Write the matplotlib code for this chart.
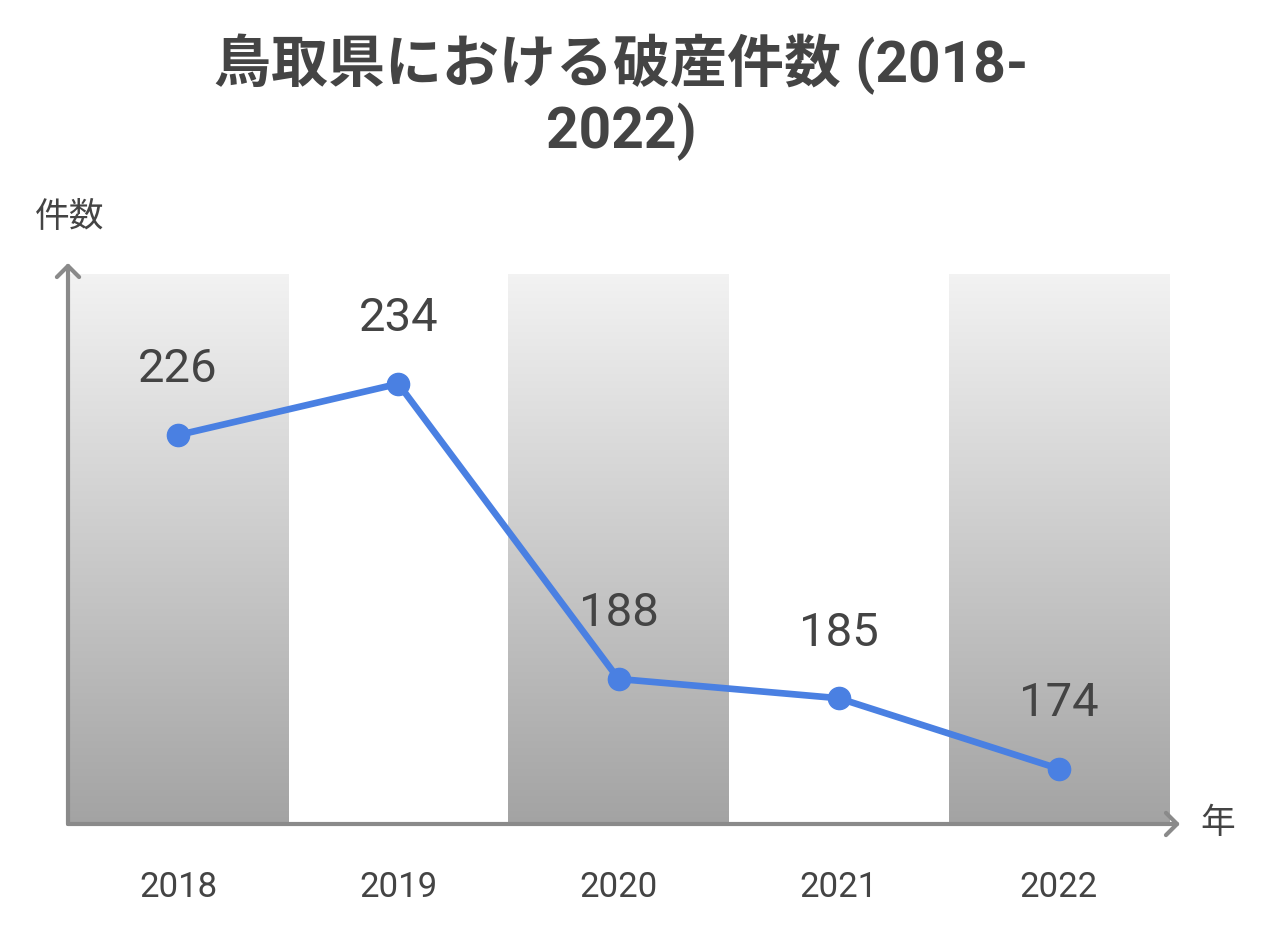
import numpy as np
import matplotlib.pyplot as plt

plt.rcParams['font.family'] = ['Roboto', 'Noto Sans CJK JP', 'DejaVu Sans']

years = ['2018', '2019', '2020', '2021', '2022']
counts = [226, 234, 188, 185, 174]

title = '鳥取県における破産件数 (2018-\n2022)'
ylabel = '件数'
xlabel = '年'

fig = plt.figure(figsize=(12.8, 9.45), dpi=100)
ax = fig.add_axes([68/1280, 1-825/945, 1101/1280, 550/945])

ymin, ymax = 165.4, 251.1
x = np.arange(len(years))
ax.set_xlim(-0.5, len(years) - 0.5)
ax.set_ylim(ymin, ymax)

# gradient bands on every other year
grad = np.linspace(0, 1, 256).reshape(-1, 1)
top = np.array([0.95, 0.95, 0.95])
bot = np.array([0.64, 0.64, 0.64])
img = top + (bot - top) * grad[:, :, None]
for i in range(0, len(years), 2):
    ax.imshow(img, extent=[i - 0.5, i + 0.5, ymin, ymax], aspect='auto',
              origin='upper', zorder=0)

ax.plot(x, counts, color='#4a80e2', lw=4.8, marker='o', ms=16, zorder=3,
        clip_on=False)
for xi, v in zip(x, counts):
    ax.annotate(str(v), (xi, v), xytext=(0, 48), textcoords='offset points',
                ha='center', va='center', fontsize=34, color='#444444')

for s in ax.spines.values():
    s.set_visible(False)
ax.set_xticks([])
ax.set_yticks([])

axc = '#8a8a8a'
arr = dict(arrowstyle='->,head_length=0.8,head_width=0.8', color=axc, lw=3,
           shrinkA=0, shrinkB=0)
ax.annotate('', xy=(0, 1.02), xycoords='axes fraction', xytext=(0, 0),
            arrowprops=arr)
ax.annotate('', xy=(1.01, 0), xycoords='axes fraction', xytext=(0, 0),
            arrowprops=arr)

for xi, y in zip(x, years):
    ax.text(xi, -0.113, y, transform=ax.get_xaxis_transform(), ha='center',
            va='center', fontsize=25, color='#444444')

fig.text(70/1280, 1-218/945, ylabel, ha='center', va='center', fontsize=25,
         color='#444444')
fig.text(1218/1280, 1-824/945, xlabel, ha='center', va='center', fontsize=25,
         color='#444444')

fig.text(621/1280, 1-97/945, title, ha='center', va='center', fontsize=41,
         fontweight='bold', color='#444444', linespacing=1.17)

fig.savefig('out.png', dpi=100)
